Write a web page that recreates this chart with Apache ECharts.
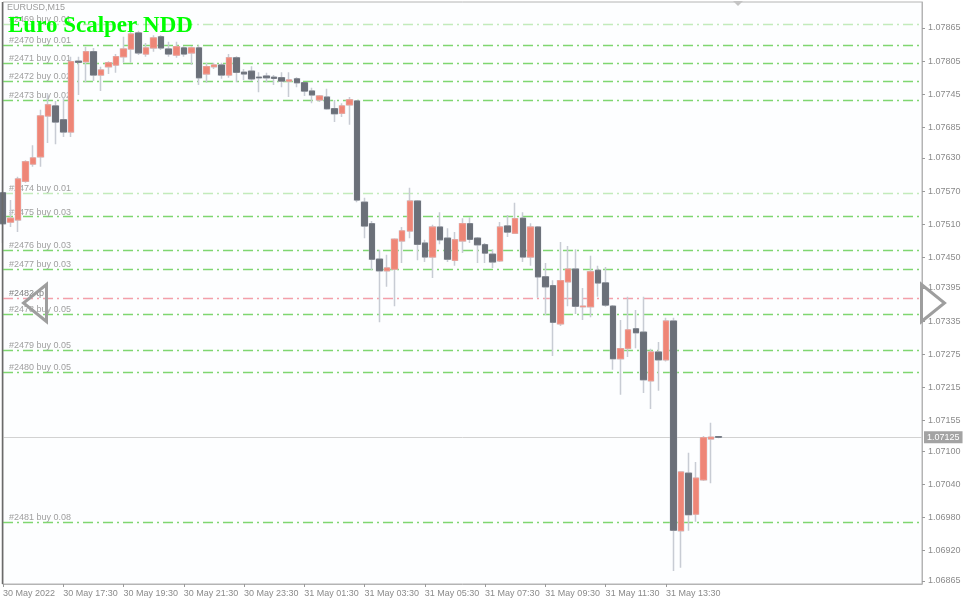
<!DOCTYPE html>
<html><head><meta charset="utf-8">
<script src="https://cdn.jsdelivr.net/npm/echarts@6/dist/echarts.min.js"></script>
<style>html,body{margin:0;padding:0;background:#fff}#c{width:966px;height:604px}</style>
</head><body><div id="c"></div>
<script>
// ---- data (EURUSD M15, first bar 30 May 15:30) ----
const opens=[
1.07567,1.07514,1.07518,1.07588,1.07619,1.07632,1.07706,1.07724,1.07699,1.07677,
1.07805,1.07804,1.07822,1.07780,1.07795,1.07798,1.07813,1.07827,1.07856,1.07818,
1.07829,1.07849,1.07827,1.07816,1.07829,1.07820,1.07829,1.07782,1.07795,1.07798,
1.07780,1.07811,1.07785,1.07787,1.07776,1.07778,1.07776,1.07775,1.07769,1.07773,
1.07766,1.07751,1.07735,1.07740,1.07719,1.07711,1.07726,1.07733,1.07550,1.07511,
1.07447,1.07426,1.07429,1.07480,1.07498,1.07552,1.07476,1.07451,1.07505,1.07485,
1.07445,1.07480,1.07511,1.07485,1.07473,1.07456,1.07444,1.07507,1.07494,1.07521,
1.07451,1.07505,1.07415,1.07399,1.07330,1.07406,1.07429,1.07361,1.07361,1.07427,
1.07404,1.07362,1.07267,1.07286,1.07321,1.07315,1.07227,1.07279,1.07265,1.07335,
1.06956,1.07060,1.06986,1.07048,1.07122,1.07126];
const closes=[
1.07511,1.07521,1.07592,1.07623,1.07630,1.07706,1.07726,1.07695,1.07677,1.07804,
1.07803,1.07822,1.07780,1.07789,1.07802,1.07813,1.07827,1.07854,1.07820,1.07829,
1.07847,1.07829,1.07818,1.07831,1.07818,1.07829,1.07775,1.07795,1.07798,1.07780,
1.07811,1.07785,1.07782,1.07773,1.07775,1.07775,1.07774,1.07769,1.07771,1.07766,
1.07751,1.07744,1.07742,1.07719,1.07710,1.07724,1.07735,1.07554,1.07507,1.07447,
1.07426,1.07431,1.07483,1.07498,1.07552,1.07474,1.07451,1.07505,1.07482,1.07447,
1.07482,1.07511,1.07483,1.07473,1.07458,1.07442,1.07505,1.07496,1.07520,1.07451,
1.07505,1.07415,1.07397,1.07333,1.07408,1.07429,1.07362,1.07362,1.07424,1.07404,
1.07364,1.07267,1.07285,1.07319,1.07314,1.07229,1.07279,1.07265,1.07335,1.06957,
1.07062,1.06985,1.07051,1.07124,1.07125,1.07125];
const highs=[
1.07590,1.07554,1.07596,1.07626,1.07653,1.07717,1.07746,1.07733,1.07740,1.07813,
1.07813,1.07831,1.07829,1.07795,1.07805,1.07818,1.07849,1.07860,1.07860,1.07838,
1.07852,1.07852,1.07840,1.07840,1.07832,1.07832,1.07834,1.07802,1.07802,1.07802,
1.07818,1.07814,1.07791,1.07796,1.07785,1.07784,1.07780,1.07785,1.07785,1.07776,
1.07767,1.07757,1.07744,1.07755,1.07735,1.07729,1.07740,1.07735,1.07558,1.07516,
1.07464,1.07455,1.07485,1.07505,1.07576,1.07554,1.07482,1.07509,1.07532,1.07503,
1.07496,1.07521,1.07523,1.07487,1.07476,1.07465,1.07514,1.07527,1.07549,1.07532,
1.07512,1.07507,1.07440,1.07409,1.07478,1.07471,1.07465,1.07395,1.07453,1.07435,
1.07433,1.07364,1.07337,1.07379,1.07355,1.07379,1.07285,1.07297,1.07341,1.07341,
1.07062,1.07097,1.07080,1.07127,1.07151,1.07126];
const lows=[
1.07476,1.07505,1.07496,1.07585,1.07614,1.07614,1.07657,1.07655,1.07668,1.07668,
1.07744,1.07767,1.07769,1.07751,1.07782,1.07784,1.07802,1.07802,1.07816,1.07813,
1.07822,1.07825,1.07813,1.07811,1.07813,1.07798,1.07762,1.07766,1.07791,1.07773,
1.07775,1.07767,1.07771,1.07769,1.07749,1.07767,1.07762,1.07758,1.07740,1.07758,
1.07742,1.07729,1.07731,1.07717,1.07695,1.07704,1.07690,1.07550,1.07485,1.07427,
1.07333,1.07397,1.07362,1.07440,1.07485,1.07445,1.07442,1.07413,1.07474,1.07442,
1.07435,1.07458,1.07476,1.07440,1.07440,1.07431,1.07442,1.07487,1.07493,1.07442,
1.07435,1.07377,1.07346,1.07272,1.07326,1.07362,1.07348,1.07337,1.07342,1.07379,
1.07361,1.07247,1.07202,1.07270,1.07286,1.07205,1.07176,1.07209,1.07262,1.06883,
1.06889,1.06956,1.06972,1.07046,1.07042,1.07123];

const xTickLabels=['30 May 2022','30 May 17:30','30 May 19:30','30 May 21:30','30 May 23:30',
  '31 May 01:30','31 May 03:30','31 May 05:30','31 May 07:30','31 May 09:30','31 May 11:30','31 May 13:30'];
const barsPerTick=8;
const yTickValues=[1.07865,1.07805,1.07745,1.07685,1.07630,1.07570,1.07510,1.07450,1.07395,
  1.07335,1.07275,1.07215,1.07155,1.07100,1.07040,1.06980,1.06920,1.06865];
const orderNames=['#2469 buy 0.01','#2470 buy 0.01','#2471 buy 0.01','#2472 buy 0.02','#2473 buy 0.02',
  '#2474 buy 0.01','#2475 buy 0.03','#2476 buy 0.03','#2477 buy 0.03','#2482 tp','#2478 buy 0.05',
  '#2479 buy 0.05','#2480 buy 0.05','#2481 buy 0.08'];
const orderPrices=[1.07872,1.07834,1.07801,1.07769,1.07735,1.07566,1.07524,1.07464,1.07429,1.07377,
  1.07348,1.07283,1.07243,1.06972];
const fadedOrders=['#2469 buy 0.01','#2474 buy 0.01'];
const currentPrice=1.07125;
const symbolName='EURUSD,M15';
const eaName='Euro Scalper NDD';
const totalSlots=123; // bars + right shift area

// ---- chart ----
const cats=[];
for(let i=0;i<totalSlots;i++) cats.push('b'+i);
const isTick=i=>i%barsPerTick===0 && (i/barsPerTick)<xTickLabels.length;

const wickData=opens.map((o,i)=>[o,closes[i],lows[i],highs[i]]);
const bodyData=opens.map((o,i)=>[o,closes[i],Math.min(o,closes[i]),Math.max(o,closes[i])]);

const GREEN='#7fd670', FADED='#c3ebbb', PINK='#f3a0aa';
const orderLines=orderPrices.map((p,i)=>{
  const nm=orderNames[i];
  const col=nm.indexOf('buy')<0?PINK:(fadedOrders.indexOf(nm)>=0?FADED:GREEN);
  return {yAxis:p,name:nm,lineStyle:{color:col,type:[10,4,2,4],width:1.4},
    label:{show:true,position:'insideStartTop',distance:[6,0],formatter:nm,
      color:nm.indexOf('buy')<0?'#808080':'#a0a0a0',fontSize:9,fontFamily:'Liberation Sans'}};
});
orderLines.push({yAxis:currentPrice,name:'cur',lineStyle:{color:'#d2d2d2',type:'solid',width:1},
  label:{show:true,position:'end',distance:2,formatter:currentPrice.toFixed(5),color:'#fff',
    backgroundColor:'#a3a3a3',padding:[2,3,1,3],fontSize:9,fontFamily:'Liberation Sans'}});

const chart=echarts.init(document.getElementById('c'),null,{renderer:'canvas',devicePixelRatio:1});
chart.setOption({
  animation:false,
  backgroundColor:'#ffffff',
  grid:{left:3,right:44,top:2,bottom:20,show:true,borderColor:'#b4b4b4',borderWidth:1,backgroundColor:'#fdfeff'},
  xAxis:{type:'category',data:cats,boundaryGap:false,
    axisLine:{lineStyle:{color:'#b4b4b4'}},
    axisTick:{show:true,length:3,interval:(i)=>isTick(i),lineStyle:{color:'#9a9a9a'}},
    axisLabel:{interval:(i)=>isTick(i),formatter:(v,i)=>isTick(i)?xTickLabels[i/barsPerTick]:'',
      align:'left',margin:5,fontSize:9,color:'#8b8b8b',fontFamily:'Liberation Sans'},
    splitLine:{show:false}},
  yAxis:{type:'value',position:'right',min:1.068596,max:1.079120,scale:true,
    axisLine:{show:true,lineStyle:{color:'#b4b4b4'}},
    axisTick:{show:true,length:3,customValues:yTickValues,lineStyle:{color:'#9a9a9a'}},
    axisLabel:{customValues:yTickValues,formatter:(v)=>v.toFixed(5),margin:6,fontSize:9,color:'#8b8b8b',fontFamily:'Liberation Sans'},
    splitLine:{show:false}},
  series:[
    {type:'candlestick',name:'wicks',data:wickData,barWidth:6,z:2,silent:true,
     itemStyle:{color:'rgba(0,0,0,0)',color0:'rgba(0,0,0,0)',borderColor:'#c8ccd4',borderColor0:'#c8ccd4',borderWidth:1.5},
     markLine:{z:1,silent:true,precision:5,symbol:['none','none'],animation:false,data:orderLines}},
    {type:'candlestick',name:'bodies',data:bodyData,barWidth:6,z:3,silent:true,
     itemStyle:{color:'#ee8677',color0:'#6b7079',borderColor:'#f1968a',borderColor0:'#6e737c',borderWidth:1}}
  ],
  graphic:[
    {type:'line',z:50,shape:{x1:2.5,y1:2,x2:2.5,y2:584},style:{stroke:'#6a6a6a',lineWidth:1.5}},
    {type:'text',z:50,left:7,top:3,style:{text:symbolName,fill:'#9c9c9c',font:'9px "Liberation Sans"'}},
    {type:'text',z:50,left:8,top:15,style:{text:eaName,fill:'#00ff00',font:'bold 23px "Liberation Serif"'}},
    {type:'polygon',z:60,shape:{points:[[46.5,284.5],[23.5,303],[46.5,321.5]]},style:{fill:'none',stroke:'#9e9e9e',lineWidth:3}},
    {type:'polygon',z:60,shape:{points:[[921.5,284.5],[944.5,303],[921.5,321.5]]},style:{fill:'none',stroke:'#9e9e9e',lineWidth:3}},
    {type:'polygon',z:60,shape:{points:[[733,1],[743,1],[738,6]]},style:{fill:'#c4c4c4'}}
  ]
});
</script></body></html>
